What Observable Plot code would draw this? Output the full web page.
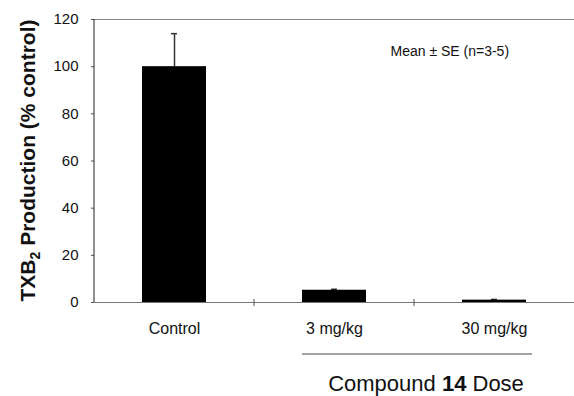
<!DOCTYPE html>
<html>
<head>
<meta charset="utf-8">
<script src="https://cdn.jsdelivr.net/npm/d3@7"></script>
<script src="https://cdn.jsdelivr.net/npm/@observablehq/plot@0.6"></script>
<style>
  html, body { margin: 0; padding: 0; background: #fff; }
  #chart svg { display: block; font-family: "Liberation Sans", Arial, sans-serif; }
</style>
</head>
<body>
<div id="chart"></div>
<script>
const categories = ["Control", "3 mg/kg", "30 mg/kg"];
const means = [100, 5.2, 1.0];
const errors = [14, 0.4, 0.3];
const yTicks = [0, 20, 40, 60, 80, 100, 120];
const yTitle = ["TXB", "2", " Production (% control)"];
const xTitle = ["Compound ", "14", " Dose"];
const note = "Mean \u00B1 SE (n=3-5)";

const data = categories.map((c, i) => ({ cat: c, mean: means[i], se: errors[i], top: means[i] + errors[i] }));

const W = 574, H = 396;
const plot = Plot.plot({
  width: W,
  height: H,
  marginLeft: 94,
  marginRight: 0,
  marginTop: 19,
  marginBottom: 94,
  style: { fontFamily: "'Liberation Sans', Arial, sans-serif", background: "#fff", color: "#111" },
  x: { domain: categories, paddingInner: 0.6, paddingOuter: 0.3, label: null },
  y: { domain: [0, 120], label: null },
  marks: [
    Plot.ruleY([120], { stroke: "#888", strokeWidth: 1 }),
    Plot.ruleY([0], { stroke: "#777", strokeWidth: 1 }),
    Plot.ruleX(data, { x: "cat", y1: "mean", y2: "top", stroke: "#333", strokeWidth: 1.5 }),
    Plot.tickY(data, { x: "cat", y: "top", stroke: "#333", strokeWidth: 1.5, insetLeft: 29, insetRight: 29 }),
    Plot.barY(data, { x: "cat", y: "mean", fill: "#000" }),
    Plot.axisY({ ticks: yTicks, tickSize: 3, tickPadding: 13, fontSize: 15, label: null, stroke: "#555" }),
    Plot.axisX({ tickSize: 0, tickPadding: 20, fontSize: 16, label: null }),
    Plot.text([note], { frameAnchor: "top-left", dx: 296, dy: 36, text: d => d, fontSize: 14, textAnchor: "start", lineAnchor: "bottom", fill: "#111" })
  ]
});

const svg = d3.select(plot);
const xs = plot.scale("x");
const step = xs.step != null ? xs.step : (xs.bandwidth / (1 - 0.6));
const bw = xs.bandwidth;
const y0 = plot.scale("y").apply(0);

// left axis line
svg.append("line").attr("x1", 94).attr("x2", 94).attr("y1", 19).attr("y2", y0)
  .attr("stroke", "#222").attr("stroke-width", 1);

// category boundary ticks
for (let i = 1; i < categories.length; i++) {
  const xb = xs.apply(categories[i]) - (step - bw) / 2;
  svg.append("line").attr("x1", xb).attr("x2", xb).attr("y1", y0 - 3).attr("y2", y0 + 4)
    .attr("stroke", "#555").attr("stroke-width", 1);
}

// bracket under the doses
const bx1 = xs.apply(categories[1]);
const bx2 = xs.apply(categories[2]) + bw + 6;
svg.append("line").attr("x1", bx1).attr("x2", bx2).attr("y1", 354).attr("y2", 354)
  .attr("stroke", "#444").attr("stroke-width", 1);

// x title
const xt = svg.append("text").attr("x", (bx1 + bx2) / 2 + 9).attr("y", 391)
  .attr("text-anchor", "middle").attr("font-size", 22).attr("fill", "#111");
xt.append("tspan").text(xTitle[0]);
xt.append("tspan").attr("font-weight", "bold").text(xTitle[1]);
xt.append("tspan").text(xTitle[2]);

// y title
const yt = svg.append("text").attr("transform", `translate(35,${(19 + y0) / 2}) rotate(-90)`)
  .attr("text-anchor", "middle").attr("font-size", 21).attr("font-weight", "bold").attr("fill", "#111");
yt.append("tspan").text(yTitle[0]);
yt.append("tspan").attr("font-size", 14).attr("dy", 5).text(yTitle[1]);
yt.append("tspan").attr("dy", -5).text(yTitle[2]);

document.getElementById("chart").appendChild(plot);
</script>
</body>
</html>
